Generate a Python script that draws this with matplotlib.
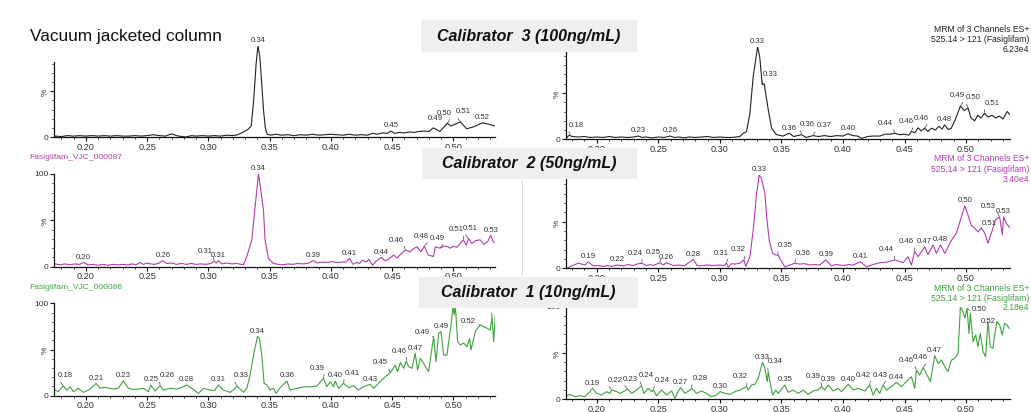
import numpy as np
import matplotlib
matplotlib.use("Agg")
import matplotlib.pyplot as plt
from matplotlib.patches import Rectangle
from matplotlib.lines import Line2D
from matplotlib.ticker import MultipleLocator, FixedLocator, FormatStrFormatter

plt.rcParams["font.family"] = ["Liberation Sans", "DejaVu Sans"]

# ---- data: retention time (min) and relative intensity (%) ----
# vacuum jacketed column, calibrator 3
vjc3_t = [0.175, 0.180, 0.185, 0.190, 0.195, 0.200, 0.205, 0.210, 0.215, 0.220,
          0.225, 0.230, 0.235, 0.240, 0.245, 0.250, 0.255, 0.260, 0.265, 0.270,
          0.274, 0.278, 0.282, 0.286, 0.290, 0.295, 0.300, 0.305, 0.310, 0.315,
          0.320, 0.324, 0.328, 0.332, 0.335, 0.337, 0.339, 0.3405, 0.342, 0.3435,
          0.345, 0.3465, 0.348, 0.351, 0.355, 0.360, 0.365, 0.370, 0.375, 0.380,
          0.385, 0.390, 0.395, 0.400, 0.405, 0.410, 0.415, 0.420, 0.425, 0.430,
          0.434, 0.438, 0.442, 0.446, 0.449, 0.452, 0.456, 0.460, 0.464, 0.468,
          0.472, 0.476, 0.480, 0.4837, 0.489, 0.4951, 0.498, 0.5057, 0.5108, 0.5163,
          0.5237, 0.529, 0.534]
vjc3_y = [1, 0.5, 1.5, 1, 1.5, 1, 1.5, 1, 1.5, 1,
          1.5, 1, 1, 1.5, 1, 1.5, 2.5, 1.5, 1, 3.5,
          1.5, 0.5, 0, 1.5, 1, 1.5, 1, 1.5, 1, 2,
          1.5, 2.5, 5, 8, 12, 40, 80, 100, 88, 60,
          30, 10, 3, 2, 3, 2, 2.5, 1.5, 2.5, 2,
          3, 2, 2.5, 3, 2.5, 2, 3, 2, 2.5, 2,
          4, 3, 4.5, 4, 6.5, 4, 5, 4.5, 5.5, 5,
          6, 6.5, 6, 10, 6, 15, 12, 16.5, 9, 11,
          15.5, 14, 12]
# (label, apex time, label centre time[, label lift in %])
vjc3_peaks = [("0.34", 0.3405, 0.3405), ("0.45", 0.449, 0.449), ("0.49", 0.4837, 0.4850, 6),
              ("0.50", 0.4951, 0.4922), ("0.51", 0.5057, 0.5084), ("0.52", 0.5237, 0.5237)]

# reference column, calibrator 3
ref3_t = [0.175, 0.1777, 0.180, 0.185, 0.190, 0.195, 0.200, 0.205, 0.210, 0.215,
          0.220, 0.225, 0.230, 0.2337, 0.237, 0.240, 0.245, 0.250, 0.255, 0.2594,
          0.263, 0.267, 0.271, 0.275, 0.280, 0.285, 0.290, 0.295, 0.300, 0.305,
          0.310, 0.3162, 0.319, 0.3216, 0.3244, 0.3271, 0.3307, 0.3324, 0.3344, 0.336,
          0.3393, 0.342, 0.346, 0.3513, 0.3563, 0.360, 0.3663, 0.370, 0.3758, 0.380,
          0.385, 0.390, 0.395, 0.400, 0.404, 0.408, 0.412, 0.415, 0.420, 0.425,
          0.430, 0.434, 0.438, 0.442, 0.446, 0.450, 0.4535, 0.4556, 0.4585, 0.461,
          0.4635, 0.4664, 0.469, 0.472, 0.475, 0.478, 0.4805, 0.4826, 0.4855, 0.488,
          0.4915, 0.4954, 0.4985, 0.5016, 0.504, 0.507, 0.5095, 0.512, 0.515, 0.518,
          0.521, 0.524, 0.527, 0.530, 0.5335, 0.5354]
ref3_y = [1, 4.5, 3, 2.5, 3, 2, 2.5, 2, 3, 2,
          2.5, 2, 2.5, 3.5, 2, 2.5, 1.5, 2.5, 2, 3.5,
          2, 2.5, 1.5, 2.5, 2, 2.5, 3, 2, 2.5, 2,
          2, 3, 6.5, 8, 28, 68, 100, 89, 59, 60,
          32, 12, 5, 3.5, 6.5, 3, 5, 2, 4, 3,
          4, 3, 4, 3.5, 6, 4, 3.5, 1, 3, 3.5,
          3.5, 5.5, 5.5, 6.5, 5, 5.5, 4.5, 8.5, 7, 12.5,
          9, 12, 8.5, 12, 10, 14, 11, 15.5, 10.5, 12,
          22, 36, 31, 34, 23, 20, 26, 23, 28, 24,
          26, 23, 25, 22, 30, 27]
ref3_peaks = [("0.18", 0.1777, 0.1835), ("0.23", 0.2337, 0.2337), ("0.26", 0.2594, 0.2594),
              ("0.33", 0.3307, 0.3307), ("0.33", 0.3344, 0.3412), ("0.36", 0.3563, 0.3563),
              ("0.36", 0.3663, 0.3712), ("0.37", 0.3758, 0.3847), ("0.40", 0.404, 0.404),
              ("0.44", 0.442, 0.4343), ("0.46", 0.4556, 0.4515), ("0.46", 0.4664, 0.4637),
              ("0.48", 0.4826, 0.4826), ("0.49", 0.4954, 0.4927), ("0.50", 0.5016, 0.5055),
              ("0.51", 0.515, 0.5210)]

# vacuum jacketed column, calibrator 2
vjc2_t = [0.175, 0.179, 0.183, 0.187, 0.191, 0.195, 0.198, 0.202, 0.206, 0.210,
          0.214, 0.218, 0.222, 0.226, 0.230, 0.234, 0.238, 0.241, 0.244, 0.247,
          0.250, 0.253, 0.256, 0.259, 0.2628, 0.266, 0.270, 0.274, 0.278, 0.282,
          0.286, 0.290, 0.294, 0.298, 0.302, 0.3049, 0.3065, 0.3082, 0.311, 0.315,
          0.319, 0.323, 0.3287, 0.3314, 0.3355, 0.3382, 0.3409, 0.3428, 0.345, 0.3463,
          0.349, 0.3531, 0.357, 0.361, 0.365, 0.369, 0.373, 0.377, 0.381, 0.3859,
          0.389, 0.393, 0.397, 0.401, 0.405, 0.409, 0.4125, 0.4153, 0.418, 0.421,
          0.4235, 0.4259, 0.429, 0.431, 0.434, 0.437, 0.4412, 0.444, 0.447, 0.4514,
          0.454, 0.4575, 0.4608, 0.4645, 0.467, 0.4703, 0.4735, 0.4763, 0.4795, 0.4837,
          0.4853, 0.4892, 0.492, 0.4946, 0.4975, 0.5001, 0.503, 0.5055, 0.5082, 0.5105,
          0.5125, 0.515, 0.518, 0.5218, 0.525, 0.528, 0.5305, 0.5325, 0.534]
vjc2_y = [3, 2, 3, 2, 3, 2.5, 4.5, 2, 2.5, 1.5,
          2.5, 1.5, 2.5, 2, 2.5, 2, 3, 2, 4.5, 2.5,
          4, 3, 2.5, 3.5, 6.5, 3.5, 4, 2.5, 3.5, 2.5,
          3.5, 2.5, 3, 2.5, 3.5, 6, 4, 6.5, 3, 4,
          3, 3.5, 2, 11, 29, 65, 100, 83, 61, 29,
          9, 3.5, 2.5, 2, 3, 2.5, 3.5, 3, 3.5, 6.5,
          4, 5, 4.5, 5.5, 4.5, 5, 5, 9, 2.5, 4.5,
          3.5, 7, 5, 8, 1.5, 6, 10, 6.5, 8, 12.5,
          9.5, 14, 18, 16, 19, 21.5, 16, 22, 12.5, 11,
          21.5, 20, 22, 22, 20, 22, 21, 25, 29, 23,
          30.5, 25, 28, 29, 24, 27, 34, 27, 26]
vjc2_peaks = [("0.20", 0.198, 0.198), ("0.26", 0.2628, 0.2628), ("0.31", 0.3049, 0.2972),
              ("0.31", 0.3082, 0.3088), ("0.34", 0.3409, 0.3409), ("0.39", 0.3859, 0.3859),
              ("0.41", 0.4153, 0.4153), ("0.44", 0.4412, 0.4412), ("0.46", 0.4608, 0.4534),
              ("0.48", 0.4763, 0.4741), ("0.49", 0.4892, 0.4870), ("0.51", 0.5082, 0.5020),
              ("0.51", 0.5125, 0.5140), ("0.53", 0.5305, 0.5305)]

# reference column, calibrator 2
ref2_t = [0.1755, 0.1796, 0.185, 0.1904, 0.1931, 0.1972, 0.201, 0.2053, 0.209, 0.2121,
          0.2167, 0.2215, 0.225, 0.2295, 0.2324, 0.2364, 0.2405, 0.2435, 0.2459, 0.2513,
          0.254, 0.2567, 0.2621, 0.2675, 0.271, 0.2784, 0.2815, 0.2838, 0.2892, 0.2946,
          0.300, 0.3035, 0.3054, 0.3068, 0.3095, 0.3122, 0.3163, 0.3195, 0.3211, 0.3244,
          0.3271, 0.3298, 0.332, 0.3339, 0.3366, 0.338, 0.3401, 0.3428, 0.345, 0.3474,
          0.3487, 0.3528, 0.3568, 0.3609, 0.365, 0.369, 0.3731, 0.377, 0.3812, 0.3861,
          0.3907, 0.394, 0.3974, 0.401, 0.4042, 0.4083, 0.4142, 0.4191, 0.4245, 0.4299,
          0.4353, 0.4421, 0.4489, 0.4529, 0.4556, 0.4583, 0.461, 0.4664, 0.4691, 0.4732,
          0.4759, 0.4792, 0.4827, 0.4881, 0.4921, 0.4962, 0.4989, 0.5016, 0.5043, 0.507,
          0.5097, 0.5124, 0.5151, 0.5178, 0.5205, 0.524, 0.5273, 0.5294, 0.5305, 0.5327,
          0.5354]
ref2_y = [0, 2.5, 5.5, 3.5, 7, 2.5, 3, 2, 3, 2,
          3.5, 2.5, 4, 3, 4.5, 5.5, 3, 4, 3, 6,
          3.5, 6, 3, 3.5, 2.5, 9.5, 3, 2.5, 3.5, 3,
          3.5, 3, 5.5, 1, 5, 4.5, 5.5, 9, 2, 12.5,
          41, 80, 100, 96, 80, 55, 30, 16, 14.5, 14,
          10.5, 1.5, 3.5, 5.5, 4.5, 5, 3.5, 4, 3.5, 9,
          2.5, 4, 3.5, 3, 4, 3.5, 7, 1.5, 4, 6,
          6.5, 9, 6, 12.5, 3.5, 18, 12.5, 23, 14.5, 25,
          16, 25, 16, 30, 37.5, 55, 67, 57, 46, 43,
          39, 43, 38, 27, 37.5, 52, 55, 36, 55, 48,
          44]
ref2_peaks = [("0.19", 0.1931, 0.1931), ("0.22", 0.2167, 0.2167), ("0.24", 0.2364, 0.2310),
              ("0.25", 0.2513, 0.2459), ("0.26", 0.2567, 0.2581), ("0.28", 0.2784, 0.2784),
              ("0.31", 0.3054, 0.3008), ("0.32", 0.3195, 0.3149), ("0.33", 0.332, 0.332),
              ("0.35", 0.3474, 0.3528), ("0.36", 0.3609, 0.3677), ("0.39", 0.3861, 0.3861),
              ("0.41", 0.4142, 0.4142), ("0.44", 0.4421, 0.4353), ("0.46", 0.4583, 0.4515),
              ("0.47", 0.4664, 0.4651), ("0.48", 0.4792, 0.4792), ("0.50", 0.4989, 0.4989),
              ("0.51", 0.5124, 0.5186, 1), ("0.53", 0.5273, 0.5181), ("0.53", 0.5305, 0.5290)]

# vacuum jacketed column, calibrator 1
vjc1_t = [0.1748, 0.1775, 0.1816, 0.1843, 0.1871, 0.1898, 0.1939, 0.198, 0.202, 0.2048,
          0.2083, 0.2116, 0.2145, 0.217, 0.2225, 0.2265, 0.2306, 0.2347, 0.238, 0.2415,
          0.247, 0.2511, 0.253, 0.2565, 0.2606, 0.2633, 0.2688, 0.2742, 0.2785, 0.2824,
          0.2865, 0.2919, 0.296, 0.3014, 0.305, 0.3082, 0.3123, 0.3178, 0.3219, 0.3232,
          0.3287, 0.3314, 0.3341, 0.3374, 0.3401, 0.3417, 0.3436, 0.3455, 0.3477, 0.3504,
          0.3532, 0.3553, 0.3586, 0.3641, 0.3668, 0.3722, 0.3777, 0.3831, 0.3886, 0.394,
          0.3967, 0.3995, 0.4022, 0.4036, 0.4063, 0.4104, 0.4145, 0.4185, 0.4226, 0.4267,
          0.4321, 0.4349, 0.439, 0.443, 0.4485, 0.4526, 0.4545, 0.4567, 0.4594, 0.4616,
          0.4635, 0.4662, 0.4689, 0.4708, 0.473, 0.4757, 0.4798, 0.4839, 0.4858, 0.488,
          0.4899, 0.4921, 0.4948, 0.4962, 0.4981, 0.4997, 0.5008, 0.5016, 0.5035, 0.5057,
          0.5084, 0.5111, 0.5133, 0.5144, 0.518, 0.522, 0.5248, 0.5275, 0.5301, 0.5316,
          0.5329, 0.5343]
vjc1_y = [6, 4.5, 10.8, 6, 9.7, 4.3, 8, 3.6, 6.1, 8.7,
          13.4, 8, 9, 8.7, 7.2, 8, 15.9, 8, 7, 6.9,
          8, 4.3, 11.6, 5, 10.8, 6.1, 8, 7.2, 9, 11.6,
          8, 2.5, 8, 6.1, 5.5, 11.6, 6.1, 3.6, 8, 10.8,
          3.6, 8, 22, 47.7, 64, 62, 44, 13.4, 11.6, 6.1,
          8, 2.5, 8.7, 15.9, 6.1, 8, 9.4, 9.7, 10.5, 18.8,
          9.7, 15.2, 9.7, 15.9, 7.9, 13.4, 8.7, 10.8, 6.1, 9.7,
          12.3, 8, 13.4, 18.8, 24.9, 33, 26, 36, 29.6, 37.5,
          31.4, 29.6, 45.8, 27.8, 40.4, 35, 26, 64, 36.8, 67.5,
          69.3, 44, 44, 58.5, 76.5, 96.4, 87.4, 98.2, 58.5, 54.9,
          57, 53, 62, 49.5, 70, 76.5, 74.7, 73, 71, 85.6,
          58.5, 87.4]
vjc1_peaks = [("0.18", 0.1816, 0.1836), ("0.21", 0.2083, 0.2083), ("0.23", 0.2306, 0.2306),
              ("0.25", 0.253, 0.2524), ("0.26", 0.2606, 0.2661), ("0.28", 0.2824, 0.2824),
              ("0.31", 0.3082, 0.3082), ("0.33", 0.3232, 0.3265), ("0.34", 0.3401, 0.3401),
              ("0.36", 0.3641, 0.3641), ("0.39", 0.394, 0.3886), ("0.40", 0.4036, 0.4036),
              ("0.41", 0.4104, 0.4172), ("0.43", 0.4321, 0.4321), ("0.45", 0.4485, 0.4403),
              ("0.46", 0.4616, 0.4561), ("0.47", 0.4689, 0.4689), ("0.49", 0.4839, 0.4744, 1),
              ("0.49", 0.4899, 0.4899), ("0.52", 0.522, 0.5125, 0.5), ("0.53", 0.5316, 0.5250)]

# reference column, calibrator 1
ref1_t = [0.1755, 0.1782, 0.1823, 0.1864, 0.1904, 0.1945, 0.1966, 0.1999, 0.204, 0.208,
          0.2107, 0.2121, 0.2161, 0.2188, 0.2251, 0.2283, 0.2324, 0.2364, 0.2383, 0.2418,
          0.2445, 0.2459, 0.2486, 0.2527, 0.2567, 0.2608, 0.2635, 0.2662, 0.2681, 0.2716,
          0.2757, 0.277, 0.2811, 0.2851, 0.2892, 0.2933, 0.2973, 0.300, 0.3041, 0.3081,
          0.3122, 0.3163, 0.3217, 0.323, 0.3257, 0.3284, 0.3311, 0.3347, 0.3366, 0.3385,
          0.3393, 0.3412, 0.3428, 0.3455, 0.3474, 0.3528, 0.3555, 0.3596, 0.3636, 0.3677,
          0.3717, 0.3758, 0.3798, 0.3826, 0.3853, 0.388, 0.392, 0.3961, 0.3988, 0.4042,
          0.4083, 0.4123, 0.4177, 0.4218, 0.4245, 0.4272, 0.4299, 0.4326, 0.4353, 0.4394,
          0.4434, 0.4475, 0.4515, 0.4556, 0.4583, 0.4597, 0.4624, 0.4651, 0.4683, 0.471,
          0.4745, 0.4773, 0.480, 0.4827, 0.4854, 0.4881, 0.4908, 0.4935, 0.4954, 0.4975,
          0.4991, 0.5008, 0.5024, 0.5035, 0.5057, 0.5078, 0.5097, 0.5116, 0.5138, 0.5159,
          0.5178, 0.5197, 0.5219, 0.5232, 0.5251, 0.5273, 0.5294, 0.5313, 0.5332, 0.5351]
ref1_y = [3.6, 5, 2.5, 3.6, 2.5, 8, 11.6, 6.1, 4.3, 8,
          6.1, 9.7, 8, 6.1, 10.5, 6.1, 9.7, 14.4, 6.1, 11.6,
          8, 9.7, 3.6, 9.7, 4.3, 8.7, 0.7, 8, 12.6, 6.1,
          9.7, 11.6, 6.1, 8.7, 6.1, 2.5, 4.3, 8, 6.1, 5,
          8, 9.7, 13.4, 9.7, 15.2, 15.9, 22.4, 39.7, 33.2, 18.8,
          29.6, 15.2, 4.3, 9.7, 6.1, 15.2, 7.2, 9.7, 6.1, 9.7,
          5, 8.7, 9.7, 13.4, 9.7, 15.2, 8.7, 11.6, 8, 15.9,
          9.7, 11.6, 8.7, 15.2, 4.3, 11.6, 6.1, 15.2, 9.7, 13.4,
          18, 13.4, 18.8, 24.2, 11.6, 31.4, 26, 34, 26, 18.8,
          47, 38.6, 42.2, 35, 29.6, 42.2, 44, 49.5, 100, 94.6,
          87.4, 98.2, 71, 92.8, 62, 69.3, 56.7, 71, 51.3, 45.8,
          83.8, 56.7, 54.9, 69.3, 83.8, 80.1, 69.3, 81.9, 80.1, 76.5]
ref1_peaks = [("0.19", 0.1966, 0.1966), ("0.22", 0.2121, 0.2148), ("0.23", 0.2251, 0.2270),
              ("0.24", 0.2364, 0.2405), ("0.24", 0.2459, 0.2535), ("0.27", 0.2681, 0.2689),
              ("0.28", 0.277, 0.2838), ("0.30", 0.300, 0.2995), ("0.32", 0.3217, 0.3163),
              ("0.33", 0.3347, 0.3347), ("0.34", 0.3393, 0.3447), ("0.35", 0.3528, 0.3528),
              ("0.39", 0.3826, 0.3758), ("0.39", 0.388, 0.3893), ("0.40", 0.4042, 0.4028),
              ("0.42", 0.4218, 0.4164), ("0.43", 0.4326, 0.4299), ("0.44", 0.4434, 0.4448),
              ("0.46", 0.4597, 0.4515), ("0.46", 0.4651, 0.4630), ("0.47", 0.4745, 0.4745),
              ("0.50", 0.5008, 0.5110, -4.5), ("0.52", 0.5178, 0.5178, -4)]

header_lines = ["MRM of 3 Channels ES+", "525.14 > 121 (Fasiglifam)"]
intensities = ["6.23e4", "3.40e4", "2.18e4"]
sample_names = ["Fasiglifam_VJC_000087", "Fasiglifam_VJC_000086"]
calibrators = ["Calibrator  3 (100ng/mL)", "Calibrator  2 (50ng/mL)", "Calibrator  1 (10ng/mL)"]

BLACK = "#222222"
MAGENTA = "#b03cb0"
GREEN = "#3ea33e"
W, H = 1031, 412

fig = plt.figure(figsize=(W / 100, H / 100), dpi=100)


def px_rect(x0, y_top, x1, y_bot):
    return [x0 / W, 1 - y_bot / H, (x1 - x0) / W, (y_bot - y_top) / H]


def panel(x0, x1, y_zero, y_full, xlim, t, y, color, peaks, spine_top=100):
    ax = fig.add_axes(px_rect(x0, y_full, x1, y_zero))
    ax.patch.set_alpha(0)
    ax.plot(t, y, color=color, lw=0.8)
    ax.set_xlim(*xlim)
    ax.set_ylim(0, 100)
    for s in ("top", "right"):
        ax.spines[s].set_visible(False)
    for s in ("left", "bottom"):
        ax.spines[s].set_linewidth(0.9)
        ax.spines[s].set_color("#111111")
    ax.spines["left"].set_bounds(0, spine_top)

    ax.xaxis.set_major_locator(MultipleLocator(0.05))
    ax.xaxis.set_minor_locator(MultipleLocator(0.01))
    ax.xaxis.set_major_formatter(FormatStrFormatter("%.2f"))
    major = [v for v in (0, 50, 100) if v <= spine_top]
    ax.yaxis.set_major_locator(FixedLocator(major))
    ax.yaxis.set_minor_locator(FixedLocator([v for v in range(10, 100, 10) if v <= spine_top and v != 50]))
    ax.set_yticklabels([{0: "0", 50: "%", 100: "100"}[v] for v in major])
    for lab in ax.get_yticklabels():
        if lab.get_text() == "%":
            lab.set_rotation(90)
            lab.set_fontsize(5)
    ax.tick_params(axis="both", which="major", length=3, width=0.8, pad=1.0, colors="#111111", labelcolor="#333333")
    ax.tick_params(axis="both", which="minor", length=1.6, width=0.6, colors="#111111")
    ax.tick_params(axis="x", labelsize=6.6)
    ax.tick_params(axis="y", labelsize=6)

    ta, ya = np.asarray(t), np.asarray(y)
    for text, apex_t, label_t, *lift in peaks:
        lift = lift[0] if lift else 7
        near = np.abs(ta - apex_t) <= 0.0012
        y_apex = ya[near].max() if near.any() else np.interp(apex_t, ta, ya)
        if abs(label_t - apex_t) < 0.0015 and not (lift != 7):
            ax.annotate(text, (apex_t, y_apex), xytext=(0, 1.2), textcoords="offset points",
                        ha="center", va="bottom", fontsize=5.6, color="#333333",
                        annotation_clip=False)
        elif abs(label_t - apex_t) < 0.0015:
            ax.text(label_t, y_apex + lift, text, ha="center", va="bottom", fontsize=5.6,
                    color="#333333", clip_on=False)
        else:
            rel = (1.0, 0.0) if label_t < apex_t else (0.0, 0.0)
            ax.annotate(text, (apex_t, y_apex), xytext=(label_t, y_apex + lift),
                        textcoords="data", ha="center", va="bottom", fontsize=5.6,
                        color="#333333", annotation_clip=False,
                        arrowprops=dict(arrowstyle="-", lw=0.5, color="#444444",
                                        shrinkA=0, shrinkB=0.5, relpos=rel))
    return ax


left_x = (0.174, 0.534)
right_x = (0.175, 0.5357)

panel(54, 495, 137, 45.5, left_x, vjc3_t, vjc3_y, BLACK, vjc3_peaks, spine_top=82)
panel(566, 1010, 139.3, 46.7, right_x, ref3_t, ref3_y, BLACK, ref3_peaks)
panel(54, 495, 266.7, 174, left_x, vjc2_t, vjc2_y, MAGENTA, vjc2_peaks)
panel(566, 1010, 268.3, 175, right_x, ref2_t, ref2_y, MAGENTA, ref2_peaks)
panel(54, 495, 395.7, 303.3, left_x, vjc1_t, vjc1_y, GREEN, vjc1_peaks)
panel(566, 1010, 399, 306.7, right_x, ref1_t, ref1_y, GREEN, ref1_peaks)

# faint divider between the two screenshots
fig.add_artist(Line2D([521.5 / W, 521.5 / W], [1 - 180 / H, 1 - 275 / H],
                      transform=fig.transFigure, color="#dddddd", lw=0.8))

# headers of the reference-column traces, right aligned at the edge
for (y1, y2, y3), col, inten in zip([(30, 40, 49.5), (159, 169.3, 179.3), (288.5, 298.5, 308)],
                                    [BLACK, MAGENTA, GREEN], intensities):
    for yy, txt in zip((y1, y2, y3), header_lines + [inten]):
        fig.text(1029 / W, 1 - yy / H, txt, ha="right", va="center", fontsize=6.2, color=col)

for name, yy, col in zip(sample_names, (157.3, 287.3), (MAGENTA, GREEN)):
    fig.text(29.5 / W, 1 - yy / H, name, ha="left", va="center", fontsize=6.1, color=col)

fig.text(30 / W, 1 - 36.7 / H, "Vacuum jacketed column", ha="left", va="center",
         fontsize=12.4, color="#111111")

# grey calibrator banners on top of everything
for label, (x0, y0, x1, y1) in zip(calibrators, [(421, 20, 637, 52), (422, 148, 637, 179), (419, 277, 638, 308)]):
    fig.add_artist(Rectangle((x0 / W, 1 - y1 / H), (x1 - x0) / W, (y1 - y0) / H,
                             transform=fig.transFigure, facecolor="#efefef",
                             edgecolor="none", zorder=10))
    fig.text((x0 + x1) / 2 / W, 1 - (y0 + y1) / 2 / H, label, ha="center", va="center",
             fontsize=11.5, fontweight="bold", fontstyle="italic", color="#111111", zorder=11)

fig.savefig("out.png", dpi=100)
